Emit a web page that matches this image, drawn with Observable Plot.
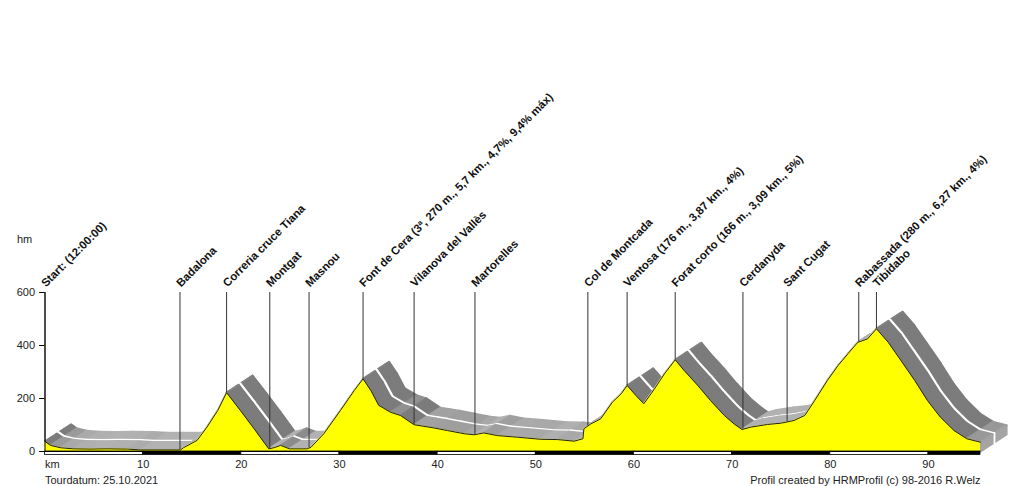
<!DOCTYPE html>
<html><head><meta charset="utf-8">
<script src="https://cdn.jsdelivr.net/npm/d3@7"></script>
<script src="https://cdn.jsdelivr.net/npm/@observablehq/plot@0.6"></script>
<style>body{margin:0;background:#fff}</style>
</head><body><div id="chart"></div>
<script>
// Profile: distance (km) and elevation (m)
const km = [0, 0.56, 1.6, 2.9, 4.6, 6.3, 8.4, 9.7, 11.4, 13.8, 14.1, 15.5, 16.5, 17.6, 18.5, 19.9, 21.3, 22.3, 22.8, 23.4, 24.0, 24.9, 26.7, 27.1, 28.4, 30.1, 31.5, 32.4, 33.2, 34.0, 35.2, 36.2, 37.6, 38.6, 39.6, 41.0, 42.7, 43.7, 44.7, 46.1, 48.1, 50.5, 52.2, 53.9, 54.8, 54.9, 55.6, 56.6, 57.8, 58.7, 59.3, 60.2, 61.0, 62.1, 63.1, 64.2, 65.1, 66.5, 67.8, 69.2, 70.2, 71.0, 71.9, 73.6, 75.0, 76.3, 77.4, 78.4, 79.7, 80.8, 81.8, 82.8, 83.8, 84.7, 85.9, 87.2, 88.6, 89.9, 91.2, 92.6, 93.9, 95.3];
const elev = [38, 23, 14, 10, 9, 10, 9, 6, 6, 6, 14, 42, 92, 155, 222, 155, 86, 35, 10, 15, 23, 10, 10, 16, 67, 155, 230, 274, 230, 174, 148, 136, 101, 95, 89, 79, 67, 63, 70, 60, 54, 46, 45, 39, 48, 86, 104, 123, 186, 218, 249, 211, 180, 237, 293, 346, 306, 249, 192, 136, 104, 83, 92, 102, 107, 117, 136, 192, 268, 325, 369, 412, 425, 463, 412, 343, 268, 192, 130, 79, 48, 35];

const markerNames = ["Start: (12:00:00)", "Badalona", "Correria cruce Tiana", "Montgat", "Masnou", "Font de Cera (3ª, 270 m., 5,7 km., 4,7%, 9,4% máx)", "Vilanova del Vallès", "Martorelles", "Col de Montcada", "Ventosa (176 m., 3,87 km., 4%)", "Forat corto (166 m., 3,09 km., 5%)", "Cerdanyda", "Sant Cugat", "Rabassada (280 m., 6,27 km., 4%)", "Tibidabo"];
const markerKm = [0, 13.75, 18.5, 22.9, 26.9, 32.4, 37.6, 43.8, 55.3, 59.3, 64.2, 71.1, 75.6, 82.9, 84.7];

const xTicks = [10, 20, 30, 40, 50, 60, 70, 80, 90];
const yTicks = [0, 200, 400, 600];
const yUnit = "hm";
const xUnit = "km";
const tourDate = "Tourdatum: 25.10.2021";
const credit = "Profil created by HRMProfil (c) 98-2016 R.Welz";

// ---- derived ----
const profile = km.map((k, i) => ({km: k, elev: elev[i]}));
const endKm = km[km.length - 1];
const elevAt = k => {
  const i = d3.bisectRight(km, k);
  if (i <= 0) return elev[0];
  if (i >= km.length) return elev[elev.length - 1];
  const t = (k - km[i - 1]) / (km[i] - km[i - 1]);
  return elev[i - 1] + t * (elev[i] - elev[i - 1]);
};
const markers = markerNames.map((n, i) => ({name: n, km: markerKm[i], elev: elevAt(markerKm[i])}));

const X0 = 44.5, X1 = 980, Y0 = 451, Y600 = 292;
const pxPerKm = (X1 - X0) / endKm, pxPerM = (Y0 - Y600) / 600;

const OX = 26, OY = -17, N = 26;
const ribbonPts = [...profile, {km: endKm, elev: 0}];
const shadeScale = d3.interpolateRgb("#b2b2b2", "#7c7c7c");
const segs = d3.pairs(ribbonPts).map(([a, b]) => {
  const dx = (b.km - a.km) * pxPerKm, dy = (b.elev - a.elev) * pxPerM;
  let shade;
  if (dx === 0) shade = "#a4a4a4";
  else shade = shadeScale(Math.max(0, Math.min(1, (-dy / dx) / 0.55)));
  return {x1: a.km, y1: a.elev, x2: b.km, y2: b.elev, shade};
});
const ribbonMarks = [];
for (let k = N; k >= 0; k--) {
  const white = (k === 13 || k === 14);
  ribbonMarks.push(Plot.link(segs, {
    x1: "x1", y1: "y1", x2: "x2", y2: "y2",
    stroke: white ? "#ffffff" : "shade",
    strokeWidth: white ? 1.8 : 2.2, strokeLinecap: "round",
    dx: OX * k / N, dy: OY * k / N
  }));
}

const barSegs = [0, ...xTicks].map((s, i) => ({x1: s, x2: Math.min(s + 10, endKm), fill: i % 2 ? "#000" : "#fff"}));

const chart = Plot.plot({
  width: 1024, height: 486,
  x: {domain: [0, endKm], range: [X0, X1], axis: null},
  y: {domain: [0, 600], range: [Y0, Y600], axis: null},
  style: {fontFamily: "'Liberation Sans', Arial, sans-serif", background: "#fff", color: "#222"},
  marks: [
    ...ribbonMarks,
    Plot.areaY(profile, {x: "km", y: "elev", fill: "#ffff00"}),
    Plot.line(profile, {x: "km", y: "elev", stroke: "#222", strokeWidth: 1}),
    Plot.ruleX(markers, {x: "km", y1: "elev", y2: 600, stroke: "#333", strokeWidth: 1}),
    Plot.text(markers, {x: "km", y: () => 600, text: "name", rotate: -45, textAnchor: "start", lineAnchor: "bottom", dy: -5, dx: 1, fontWeight: "bold", fontSize: 11.4, fill: "#111"}),
    // y axis
    Plot.ruleX([0], {y1: 0, y2: 600, stroke: "#000"}),
    Plot.ruleY(yTicks, {x1: -0.55, x2: 0, stroke: "#000"}),
    Plot.text(yTicks, {x: 0, y: d => d, text: d => String(d), textAnchor: "end", dx: -10, fontSize: 11, fill: "#222"}),
    Plot.text([yUnit], {x: 0, y: () => 600, text: d => d, textAnchor: "start", dx: -28, dy: -53, fontSize: 11, fill: "#222"}),
    // x axis bar
    Plot.rect(barSegs, {x1: "x1", x2: "x2", y1: 0, y2: -13, fill: "fill", stroke: "#000", strokeWidth: 0.8}),
    Plot.ruleY([0], {x1: 0, x2: endKm, stroke: "#000"}),
    Plot.text(xTicks, {x: d => d, y: () => 0, text: d => String(d), dy: 12.5, fontSize: 11, fill: "#222"}),
    Plot.text([xUnit], {x: 0, y: () => 0, text: d => d, textAnchor: "start", dy: 12.5, fontSize: 11, fill: "#222"}),
    Plot.text([tourDate], {x: 0, y: () => 0, text: d => d, textAnchor: "start", dy: 29, fontSize: 11, fill: "#222"}),
    Plot.text([credit], {x: endKm, y: () => 0, text: d => d, textAnchor: "end", dy: 29, fontSize: 11, fill: "#222"})
  ]
});
document.getElementById("chart").appendChild(chart);
</script>
</body></html>
